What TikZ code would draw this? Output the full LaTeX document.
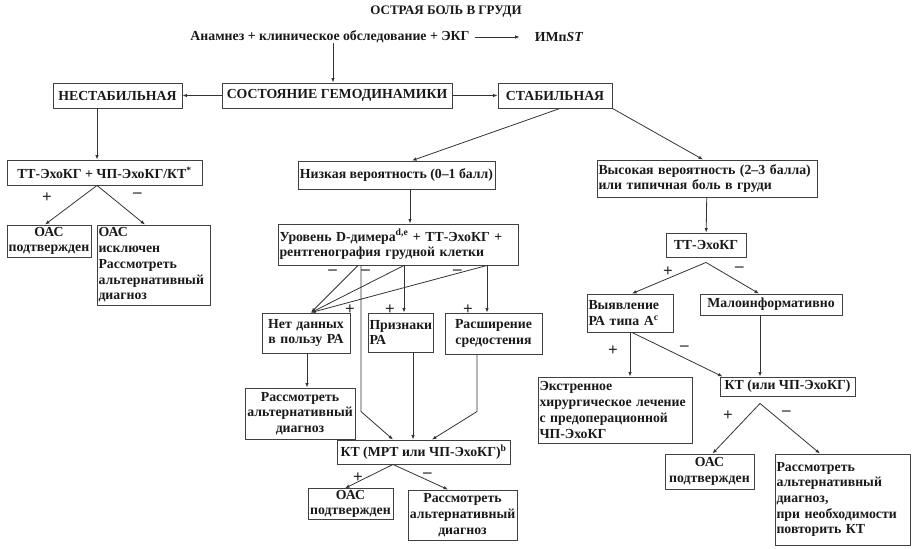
\documentclass[tikz,border=0pt]{standalone}
\usepackage{fontspec}
\setmainfont{Liberation Serif}
\usetikzlibrary{positioning,arrows.meta}

\newcommand\lab{\fontsize{13.8}{15.7}\selectfont\bfseries}
\newcommand\ttl{\fontsize{13}{15.5}\selectfont\bfseries}
\newcommand\sgnfont{\fontsize{17}{17}\selectfont\bfseries}

\tikzset{
  box/.style={draw=black!75, line width=0.9pt, inner sep=1.5pt, align=center, font=\lab, text=black!90},
  lbox/.style={box, align=left},
  txt/.style={inner sep=0pt, font=\lab, text=black!90},
  arr/.style={-{Latex[length=4.5pt,width=3.5pt]}, line width=0.8pt, draw=black!80},
  sgn/.style={inner sep=0pt, font=\sgnfont, text=black!85},
}

\begin{document}
\begin{tikzpicture}[x=1pt, y=1pt, on grid]
\useasboundingbox (0,0) rectangle (916,-549);

% top
\node[box, minimum width=230pt, minimum height=25pt] (state) at (337,-95.5) {СОСТОЯНИЕ ГЕМОДИНАМИКИ};
\node[txt, font=\ttl, above right=83.5pt and 109pt of state] (title) {ОСТРАЯ БОЛЬ В ГРУДИ};
\node[txt, above left=58.5pt and 7pt of state] (anam) {Анамнез + клиническое обследование + ЭКГ};
\node[txt, right=229pt of anam] (imst) {ИМп\textit{ST}};
\node[box, minimum width=129pt, minimum height=25pt, left=219.5pt of state] (unst) {НЕСТАБИЛЬНАЯ};
\node[box, minimum width=114pt, minimum height=25pt, right=218pt of state] (stab) {СТАБИЛЬНАЯ};

% unstable branch
\node[box, minimum width=195pt, minimum height=25pt, below left=77pt and 13pt of unst] (tte1) {ТТ-ЭхоКГ + ЧП-ЭхоКГ/КТ\textsuperscript{*}};
\node[box, text width=81pt, minimum height=32pt, below left=68.5pt and 55.5pt of tte1] (oac1) {ОАС\\подтвержден};
\node[lbox, text width=110pt, minimum height=80pt, below right=92.5pt and 49pt of tte1] (excl) {ОАС\\исключен\\Рассмотреть\\альтернативный\\диагноз};

% low probability
\node[box, minimum width=197pt, minimum height=28pt, below left=79.5pt and 158.5pt of stab] (low) {Низкая вероятность (0--1 балл)};
\node[lbox, text width=237pt, minimum height=41pt, below right=69.5pt and 1.5pt of low] (ddim) {Уровень D-димера\textsuperscript{d,e} + ТТ-ЭхоКГ +\\рентгенография грудной клетки};
\node[box, text width=85pt, minimum height=40pt, below left=88.5pt and 92pt of ddim] (nodata) {Нет данных\\в пользу РА};
\node[lbox, text width=62pt, minimum height=39pt, below right=88pt and 2.5pt of ddim] (signs) {Признаки\\РА};
\node[box, text width=94pt, minimum height=41pt, below right=89pt and 95.5pt of ddim] (mediast) {Расширение\\средостения};
\node[box, text width=107pt, minimum height=51pt, below left=80.5pt and 6pt of nodata] (alt1) {Рассмотреть\\альтернативный\\диагноз};
\node[box, minimum width=173pt, minimum height=24pt, below right=119.5pt and 23pt of signs] (ctmri) {КТ (МРТ или ЧП-ЭхоКГ)\textsuperscript{b}};
\node[box, text width=82pt, minimum height=28pt, below left=52pt and 73pt of ctmri] (oac2) {ОАС\\подтвержден};
\node[box, text width=106pt, minimum height=50pt, below right=63pt and 39pt of ctmri] (alt2) {Рассмотреть\\альтернативный\\диагноз};

% high probability
\node[lbox, text width=217pt, minimum height=37pt, below right=83pt and 152pt of stab] (high) {Высокая вероятность (2--3 балла)\\или типичная боль в груди};
\node[box, minimum width=80pt, minimum height=24pt, below left=66.5pt and 1pt of high] (tte2) {ТТ-ЭхоКГ};
\node[lbox, text width=83pt, minimum height=38pt, below left=68pt and 76pt of tte2] (detect) {Выявление\\РА типа А\textsuperscript{c}};
\node[box, minimum width=142pt, minimum height=21pt, below right=59.5pt and 65pt of tte2] (poor) {Малоинформативно};
\node[box, minimum width=135pt, minimum height=19pt, below right=82pt and 16.5pt of poor] (ctor) {КТ (или ЧП-ЭхоКГ)};
\node[lbox, text width=151pt, minimum height=66pt, below left=97pt and 15pt of detect] (surg) {Экстренное\\хирургическое лечение\\с предоперационной\\ЧП-ЭхоКГ};
\node[box, text width=86pt, minimum height=35pt, below left=85pt and 78pt of ctor] (oac3) {ОАС\\подтвержден};
\node[lbox, text width=132pt, minimum height=91pt, below right=113pt and 55pt of ctor] (alt3) {Рассмотреть\\альтернативный\\диагноз,\\при необходимости\\повторить КТ};

% fork points
\coordinate (f1) at ([xshift=-7.5pt]tte1.south);
\coordinate (f2) at ([yshift=-5pt]tte2.south);
\coordinate (f3) at ([xshift=-27.5pt,yshift=-7pt]ctor.south);
\coordinate (f4) at ([xshift=-30.5pt]ctmri.south);
\coordinate (da) at ([xshift=-40pt]ddim.south);
\coordinate (dv) at ([xshift=-37pt]ddim.south);
\coordinate (db) at ([xshift=6pt]ddim.south);
\coordinate (dc) at ([xshift=89pt]ddim.south);
\coordinate (bend) at ([yshift=28pt]ctmri.north);

% connectors
\draw[arr] ([xshift=3pt]anam.south) -- ([xshift=3pt]anam.south |- state.north);
\draw[arr, shorten <=5pt, shorten >=15pt] (anam) -- (imst);
\draw[arr] (state) -- (unst);
\draw[arr] (state) -- (stab);
\draw[arr] ([xshift=-20.5pt]unst.south) -- ([xshift=-20.5pt]unst.south |- tte1.north);
\draw[arr] (f1) -- ([xshift=-4pt]oac1.north);
\draw[arr] (f1) -- ([xshift=-8.5pt]excl.north);
\draw[arr] ([xshift=5pt]stab.south) -- ([xshift=15.5pt]low.north);
\draw[arr] (stab.south east) -- ([xshift=-4pt]high.north);
\draw[arr] ([xshift=13.5pt]low.south) -- ([xshift=13.5pt]low.south |- ddim.north);
\draw[arr] (high) -- (tte2);
\draw[arr] (f2) -- ([xshift=2pt]detect.north);
\draw[arr] (f2) -- ([xshift=-12pt]poor.north);
\draw[arr] ([xshift=-11pt]poor.south) -- ([xshift=-11pt]poor.south |- ctor.north);
\draw[arr] (detect.south) -- (detect.south |- surg.north);
\draw[arr] ([xshift=2pt]detect.south) -- ([xshift=3pt]ctor.north west);
\draw[arr] (f3) -- ([xshift=3pt]oac3.north);
\draw[arr] (f3) -- ([xshift=-22.5pt]alt3.north);
\draw[arr] (da) -- ([xshift=5pt]nodata.north);
\draw[arr] (db) -- ([xshift=5pt]nodata.north);
\draw[arr] (dc) -- ([xshift=5pt]nodata.north);
\draw[arr] (db) -- (db |- signs.north);
\draw[arr] (dc) -- (dc |- mediast.north);
\draw[arr] (dv) -- (dv |- bend) -- ([xshift=-30.5pt]ctmri.north);
\draw[arr] ([xshift=1pt]nodata.south) -- ([xshift=1pt]nodata.south |- alt1.north);
\draw[arr] ([xshift=12.5pt]signs.south) -- ([xshift=12.5pt]signs.south |- ctmri.north);
\draw[arr] ([xshift=-16.5pt]mediast.south) -- ([xshift=-16.5pt]mediast.south |- bend) -- ([xshift=8.5pt]ctmri.north);
\draw[arr] (f4) -- ([xshift=-5.5pt]oac2.north);
\draw[arr] (f4) -- ([xshift=-14.5pt]alt2.north);

% signs
\node[sgn, below left=7pt and 45pt of f1] {+};
\node[sgn, below right=7pt and 36pt of f1] {--};
\node[sgn, below left=4pt and 33pt of f2] {+};
\node[sgn, below right=4pt and 29pt of f2] {--};
\node[sgn, below left=13pt and 12pt of detect.south] {+};
\node[sgn, below right=13pt and 50pt of detect.south] {--};
\node[sgn, below left=7pt and 27pt of f3] {+};
\node[sgn, below right=7pt and 22pt of f3] {--};
\node[sgn, below left=4pt and 61pt of ddim.south] {--};
\node[sgn, below left=4pt and 28pt of ddim.south] {--};
\node[sgn, below right=4pt and 55pt of ddim.south] {--};
\node[sgn, below left=39pt and 43pt of ddim.south] {+};
\node[sgn, below left=39pt and 3pt of ddim.south] {+};
\node[sgn, below right=39pt and 65pt of ddim.south] {+};
\node[sgn, below left=8pt and 30pt of f4] {+};
\node[sgn, below right=8pt and 30pt of f4] {--};
\end{tikzpicture}
\end{document}
